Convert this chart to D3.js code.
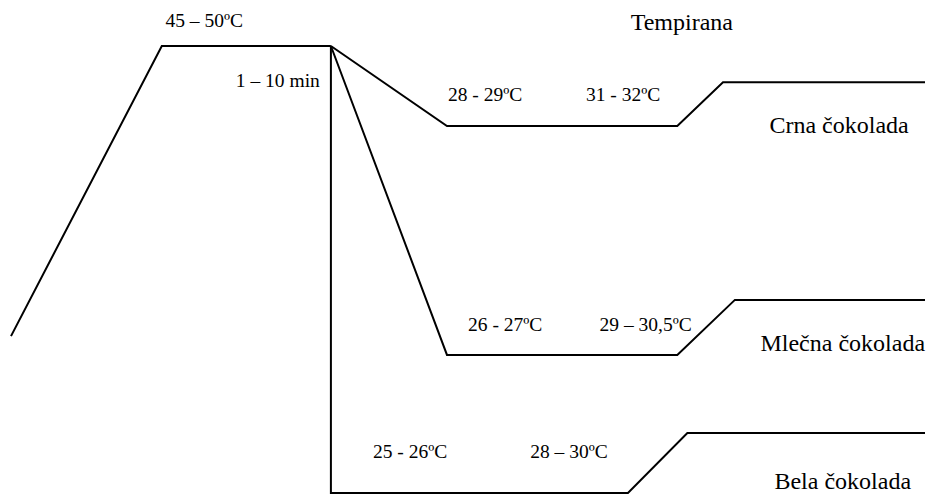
<!DOCTYPE html>
<html>
<head>
<meta charset="utf-8">
<script src="https://cdn.jsdelivr.net/npm/d3@7"></script>
<style>
  html, body { margin: 0; padding: 0; background: #fff; }
  svg { display: block; }
</style>
</head>
<body>
<svg id="chart" width="934" height="496"></svg>
<script>
// Process stages (abstract time units, 0-100) and relative temperature level (0-100)
const meltX = [0, 16.5, 35];
const meltY = [35.1, 100, 100];

const darkX = [35, 47.7, 72.9, 77.9, 100];
const darkY = [100, 82.1, 82.1, 91.9, 91.9];

const milkX = [35, 47.7, 72.9, 79.2, 100];
const milkY = [100, 30.9, 30.9, 43.2, 43.2];

const whiteX = [35, 35, 67.5, 74, 100];
const whiteY = [100, 0, 0, 13.4, 13.4];

// Labels
const tempLabels = ["45 – 50ºC", "1 – 10 min", "28 - 29ºC", "31 - 32ºC", "26 - 27ºC", "29 – 30,5ºC", "25 - 26ºC", "28 – 30ºC"];
const tempLabelX = [16.9, 24.6, 47.8, 62.9, 50.0, 64.4, 39.6, 56.8];
const tempLabelY = [104.3, 90.8, 87.8, 87.8, 36.2, 36.2, 7.8, 7.8];

const typeLabels = ["Tempirana", "Crna čokolada", "Mlečna čokolada", "Bela čokolada"];
const typeLabelX = [73.4, 90.6, 91.0, 91.0];
const typeLabelY = [103.6, 80.5, 31.8, 0.9];

const FONT = "'Liberation Serif', 'Times New Roman', 'DejaVu Serif', serif";

const x = d3.scaleLinear().domain([0, 100]).range([11, 925]);
const y = d3.scaleLinear().domain([0, 100]).range([493, 46]);

const svg = d3.select("#chart");

const series = [
  { xs: meltX, ys: meltY },
  { xs: darkX, ys: darkY },
  { xs: milkX, ys: milkY },
  { xs: whiteX, ys: whiteY }
];

const line = d3.line().x(d => x(d[0])).y(d => y(d[1]));

svg.selectAll("path.stage")
  .data(series)
  .enter().append("path")
  .attr("class", "stage")
  .attr("d", s => line(s.xs.map((v, i) => [v, s.ys[i]])))
  .attr("fill", "none")
  .attr("stroke", "#000")
  .attr("stroke-width", 2)
  .attr("stroke-linejoin", "miter");

svg.selectAll("text.temp")
  .data(tempLabels)
  .enter().append("text")
  .attr("class", "temp")
  .attr("x", (d, i) => x(tempLabelX[i]))
  .attr("y", (d, i) => y(tempLabelY[i]))
  .attr("font-family", FONT)
  .attr("font-size", 19.5)
  .attr("fill", "#000")
  .text(d => d);

svg.selectAll("text.type")
  .data(typeLabels)
  .enter().append("text")
  .attr("class", "type")
  .attr("x", (d, i) => x(typeLabelX[i]))
  .attr("y", (d, i) => y(typeLabelY[i]))
  .attr("text-anchor", "middle")
  .attr("font-family", FONT)
  .attr("font-size", 24)
  .attr("fill", "#000")
  .text(d => d);
</script>
</body>
</html>
